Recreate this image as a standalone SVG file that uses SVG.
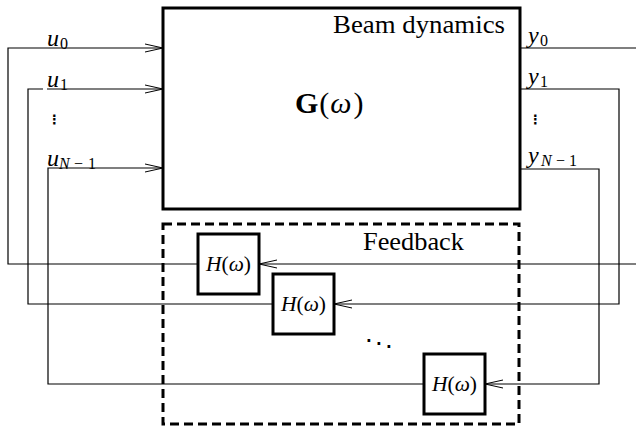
<svg xmlns="http://www.w3.org/2000/svg" width="636" height="426" viewBox="0 0 636 426">
<style>
.blk{fill:#fff;stroke:#000;stroke-width:3}
.dash{fill:none;stroke:#000;stroke-width:3;stroke-dasharray:9 5}
.wire{fill:none;stroke:#000;stroke-width:1.2}
.title{font-family:"Liberation Serif","Times New Roman",serif;font-size:26px;fill:#000}
.math{font-family:"Liberation Serif","Times New Roman",serif;font-style:italic;font-size:24px;fill:#000}
.sub{font-size:16px;font-style:normal}
.subi{font-size:16px}
.hm{font-family:"Liberation Serif","Times New Roman",serif;font-size:20px;fill:#000}
.dots{font-family:"DejaVu Sans",sans-serif;font-size:13px;font-weight:bold;fill:#000}
.pd{font-family:"DejaVu Sans",sans-serif;font-size:15px;font-weight:bold;fill:#000}
</style>
<defs>
<marker id="arr" markerUnits="userSpaceOnUse" markerWidth="20" markerHeight="12" refX="18" refY="5" orient="auto">
<path d="M0,1 L18,5 L0,9" fill="none" stroke="#000" stroke-width="1"/>
</marker>
</defs>
<g id="feedback">
<rect class="dash" x="163" y="224" width="356" height="200"/>
<text class="title" x="363" y="250" textLength="101" lengthAdjust="spacingAndGlyphs">Feedback</text>
</g>
<g id="connectors">
<path class="wire" d="M198,264 H8 V48 H163" marker-end="url(#arr)"/>
<path class="wire" d="M273,304 H28 V89 H43 M47,89 H163" marker-end="url(#arr)"/>
<path class="wire" d="M424,384 H48 V168 H163" marker-end="url(#arr)"/>
<path class="wire" d="M520,48 H650 V264 H259" marker-end="url(#arr)"/>
<path class="wire" d="M520,89 H619 V304 H334" marker-end="url(#arr)"/>
<path class="wire" d="M520,169 H599 V384 H485" marker-end="url(#arr)"/>
</g>
<g id="beam">
<rect class="blk" x="163" y="8" width="357" height="201"/>
<text class="title" x="333" y="33" textLength="172" lengthAdjust="spacingAndGlyphs">Beam dynamics</text>
<text class="hm" x="295" y="113" style="font-size:30px"><tspan font-weight="bold">G</tspan><tspan dx="1">(</tspan><tspan font-style="italic" dx="1">ω</tspan><tspan dx="2">)</tspan></text>
</g>
<g id="h0">
<rect class="blk" x="198" y="234" width="61" height="60"/>
<text class="hm" x="206" y="271" textLength="45" lengthAdjust="spacingAndGlyphs"><tspan font-style="italic">H</tspan>(<tspan font-style="italic">ω</tspan>)</text>
</g>
<g id="h1">
<rect class="blk" x="273" y="274" width="61" height="60"/>
<text class="hm" x="281" y="311" textLength="45" lengthAdjust="spacingAndGlyphs"><tspan font-style="italic">H</tspan>(<tspan font-style="italic">ω</tspan>)</text>
</g>
<g id="h2">
<rect class="blk" x="424" y="354" width="61" height="60"/>
<text class="hm" x="432" y="391" textLength="45" lengthAdjust="spacingAndGlyphs"><tspan font-style="italic">H</tspan>(<tspan font-style="italic">ω</tspan>)</text>
</g>
<g id="labels">
<text class="math" x="47" y="46">u<tspan class="sub" x="60" y="49">0</tspan></text>
<text class="math" x="47" y="87">u<tspan class="sub" x="60" y="90">1</tspan></text>
<text class="math" x="47" y="166">u<tspan class="subi" x="59" y="169">N</tspan><tspan class="sub" x="74">−</tspan><tspan class="sub" x="88">1</tspan></text>
<text class="math" x="528" y="43">y<tspan class="sub" x="540" y="46">0</tspan></text>
<text class="math" x="528" y="84">y<tspan class="sub" x="540" y="87">1</tspan></text>
<text class="math" x="528" y="163">y<tspan class="subi" x="541" y="166">N</tspan><tspan class="sub" x="556">−</tspan><tspan class="sub" x="569">1</tspan></text>
<text class="dots" x="48" y="124">⋮</text>
<text class="dots" x="529" y="124">⋮</text>
<text class="pd"><tspan x="366" y="342">.</tspan><tspan x="376" y="345">.</tspan><tspan x="386" y="348">.</tspan></text>
</g>
</svg>
